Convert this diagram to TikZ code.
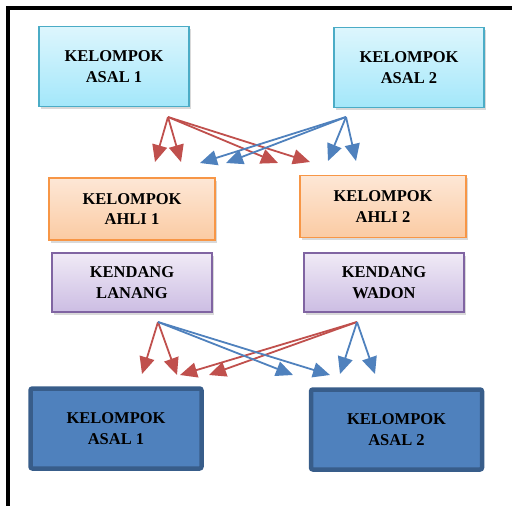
\documentclass[tikz,border=0pt]{standalone}
\usepackage{fontspec}
\setmainfont{Liberation Serif}
\usetikzlibrary{arrows.meta,shadows}
\definecolor{asalline}{HTML}{4BACC6}
\definecolor{asaltop}{HTML}{DDF6FD}
\definecolor{asalbot}{HTML}{A3E7FA}
\definecolor{ahliline}{HTML}{F79646}
\definecolor{ahlitop}{HTML}{FDE7D6}
\definecolor{ahlibot}{HTML}{FBCBA3}
\definecolor{kendline}{HTML}{8064A2}
\definecolor{kendtop}{HTML}{F0EAF6}
\definecolor{kendbot}{HTML}{CCBDE3}
\definecolor{bawahline}{HTML}{385D8A}
\definecolor{bawahfill}{HTML}{4F81BD}
\definecolor{merahpanah}{HTML}{C0504D}
\definecolor{birupanah}{HTML}{4F81BD}
\tikzset{
  >={Triangle[width=15pt,length=17pt]},
  box/.style={draw,line width=1.5pt,align=center,inner sep=0pt,
    font=\bfseries\fontsize{16.5}{20.5}\selectfont},
  shade/.style={drop shadow={opacity=0.3,shadow xshift=1.5pt,shadow yshift=-2.5pt}},
  asal/.style={box,shade,draw=asalline,top color=asaltop,bottom color=asalbot,
    minimum width=150pt,minimum height=80pt},
  ahli/.style={box,shade,draw=ahliline,top color=ahlitop,bottom color=ahlibot,
    minimum width=166pt,minimum height=62pt},
  kendang/.style={box,shade,draw=kendline,top color=kendtop,bottom color=kendbot,
    minimum width=160pt,minimum height=59pt},
  asalbawah/.style={box,draw=bawahline,fill=bawahfill,line width=4.5pt,rounded corners=2pt,
    minimum width=171pt,minimum height=80pt},
  merah/.style={->,draw=merahpanah,fill=merahpanah,line width=1.8pt},
  biru/.style={->,draw=birupanah,fill=birupanah,line width=1.8pt}
}

\begin{document}
\begin{tikzpicture}[x=1pt,y=-1pt]
  \useasboundingbox (0,0) rectangle (512,506);
  % frame
  \draw[line width=4pt] (8,506) -- (8,8) -- (512,8);

  % groups
  \node[asal] (asalA) at (114,66.5) {KELOMPOK\\ASAL 1};
  \node[asal] (asalB) at (409,67.5) {KELOMPOK\\ASAL 2};
  \node[ahli] (ahliA) at (132,209) {KELOMPOK\\AHLI 1};
  \node[ahli] (ahliB) at (383,206.5) {KELOMPOK\\AHLI 2};
  \node[kendang] (lanang) at (132,282.5) {KENDANG\\LANANG};
  \node[kendang] (wadon) at (384,282.5) {KENDANG\\WADON};
  \node[asalbawah] (asalAb) at (116,428.5) {KELOMPOK\\ASAL 1};
  \node[asalbawah] (asalBb) at (396.5,429.5) {KELOMPOK\\ASAL 2};

  % arrow ends, top
  \coordinate (sA) at (168,117);
  \coordinate (sB) at (346,117);
  \coordinate (a1) at (155,162);
  \coordinate (a2) at (181,162);
  \coordinate (a3) at (278,163);
  \coordinate (a4) at (310,162);
  \coordinate (b1) at (200,163);
  \coordinate (b2) at (226,163);
  \coordinate (b3) at (328,161);
  \coordinate (b4) at (356,161);

  % arrow ends, bottom
  \coordinate (sL) at (158,322);
  \coordinate (sW) at (357,322);
  \coordinate (c1) at (142,374);
  \coordinate (c2) at (177,375);
  \coordinate (c3) at (180,375);
  \coordinate (c4) at (209,375);
  \coordinate (d1) at (293,375);
  \coordinate (d2) at (330,375);
  \coordinate (d3) at (340,374);
  \coordinate (d4) at (375,374);

  \foreach \t in {a1,a2,a3,a4} \draw[merah] (sA) -- (\t);
  \foreach \t in {b1,b2,b3,b4} \draw[biru] (sB) -- (\t);
  \foreach \t in {c1,c2} \draw[merah] (sL) -- (\t);
  \foreach \t in {c3,c4} \draw[merah] (sW) -- (\t);
  \foreach \t in {d1,d2} \draw[biru] (sL) -- (\t);
  \foreach \t in {d3,d4} \draw[biru] (sW) -- (\t);
\end{tikzpicture}
\end{document}
